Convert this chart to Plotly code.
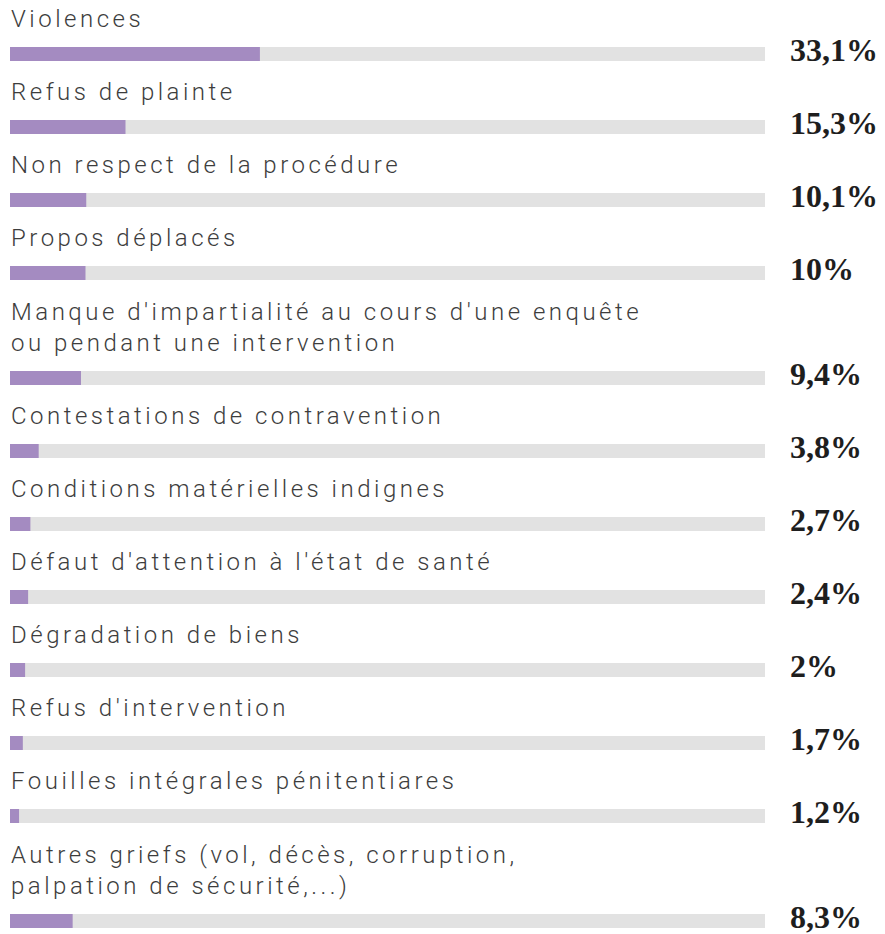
import plotly.graph_objects as go

# Motifs de saisine (part des réclamations, en %)
labels = [
    "Violences",
    "Refus de plainte",
    "Non respect de la procédure",
    "Propos déplacés",
    "Manque d'impartialité au cours d'une enquête<br>ou pendant une intervention",
    "Contestations de contravention",
    "Conditions matérielles indignes",
    "Défaut d'attention à l'état de santé",
    "Dégradation de biens",
    "Refus d'intervention",
    "Fouilles intégrales pénitentiares",
    "Autres griefs (vol, décès, corruption,<br>palpation de sécurité,...)",
]
values = [33.1, 15.3, 10.1, 10, 9.4, 3.8, 2.7, 2.4, 2, 1.7, 1.2, 8.3]

PAGE = 8  # the html body margin pushes the figure 8px right and down
W, H = 885 - PAGE, 934 - PAGE
TRACK_LEFT, TRACK_RIGHT = 10 - PAGE, 765 - PAGE  # pixel extent of the 0-100 % track
VALUE_X = 788 - PAGE
PURPLE = "#a48bc1"
GREY = "#e2e2e2"
TEXT = "#3d3d3d"

# Vertical layout in pixel units: each row is 73px, plus 32px per extra label line
centers = []
y = 54 - PAGE
for lab in labels:
    y += 32 * lab.count("<br>")
    centers.append(y)
    y += 73

px_per_unit = (TRACK_RIGHT - TRACK_LEFT) / 100
x_range = [-TRACK_LEFT / px_per_unit, (W - TRACK_LEFT) / px_per_unit]


def fmt(v):
    return f"{v:g}".replace(".", ",") + "%"


fig = go.Figure()
fig.add_trace(go.Bar(
    x=[100] * len(values), y=centers, orientation="h", width=14,
    marker=dict(color=GREY, line=dict(width=0)), hoverinfo="skip",
))
fig.add_trace(go.Bar(
    x=values, y=centers, orientation="h", width=14,
    marker=dict(color=PURPLE, line=dict(width=0)),
    customdata=labels, hovertemplate="%{customdata}: %{x}%<extra></extra>",
))

annotations = []
for lab, c, v in zip(labels, centers, values):
    n_lines = lab.count("<br>") + 1
    text = "<br>".join(
        f'<span style="letter-spacing:3.5px">{part}</span>' for part in lab.split("<br>")
    )
    annotations.append(dict(
        x=0, y=c - 35 - 16 * (n_lines - 1), xref="x", yref="y",
        text=text, showarrow=False, xanchor="left", yanchor="middle", align="left",
        borderpad=0,
        font=dict(family="Roboto", size=24, color=TEXT, weight=300),
    ))
    annotations.append(dict(
        x=VALUE_X / W, y=c - 4, xref="paper", yref="y",
        text=fmt(v), showarrow=False, xanchor="left", yanchor="middle",
        font=dict(family="Liberation Serif", size=32, color="#1e1e1e", weight="bold"),
    ))

fig.update_layout(
    width=W, height=H,
    margin=dict(l=0, r=0, t=0, b=0),
    barmode="overlay",
    showlegend=False,
    paper_bgcolor="white", plot_bgcolor="white",
    xaxis=dict(range=x_range, visible=False, fixedrange=True),
    yaxis=dict(range=[H, 0], visible=False, fixedrange=True),
    annotations=annotations,
)

fig.write_html("out.html")
